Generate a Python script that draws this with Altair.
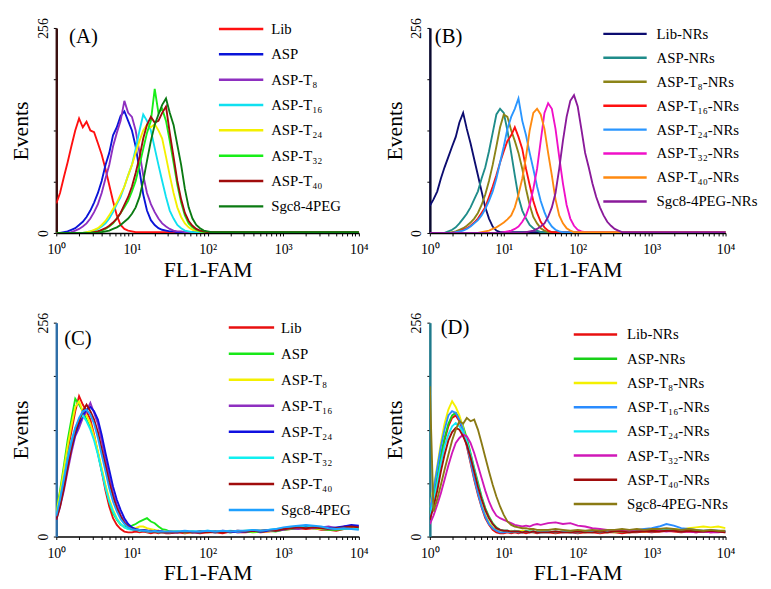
import altair as alt
import pandas as pd

FONT = "Liberation Serif"

# ---------------- x grids (FL1-FAM channel values) ----------------
FL_A = [1.00, 1.12, 1.26, 1.41, 1.58, 1.78, 2.00, 2.24, 2.51, 2.82,
        3.16, 3.55, 3.98, 4.47, 5.01, 5.62, 6.31, 7.08, 7.94, 8.91,
        10.0, 11.2, 12.6, 14.1, 15.8, 17.8, 20.0, 22.4, 25.1, 28.2,
        31.6, 35.5, 39.8, 44.7, 50.1, 56.2, 63.1, 70.8, 79.4, 89.1,
        100, 112, 126,
        316, 1000, 3162, 10000]

FL_B = [1.00, 1.12, 1.26, 1.41, 1.58, 1.78, 2.00, 2.24, 2.51, 2.82,
        3.16, 3.55, 3.98, 4.47, 5.01, 5.62, 6.31, 7.08, 7.94, 8.91,
        10.0, 11.2, 12.6, 14.1, 15.8, 17.8, 20.0, 22.4, 25.1, 28.2,
        31.6, 35.5, 39.8, 44.7, 50.1, 56.2, 63.1, 70.8, 79.4, 89.1,
        100, 112, 126, 141, 158, 178, 200, 224, 251, 282,
        316, 355, 398, 447, 501,
        1000, 3162, 10000]

FL_CD = [1.00, 1.12, 1.26, 1.41, 1.58, 1.78, 2.00, 2.24, 2.51, 2.82,
         3.16, 3.55, 3.98, 4.47, 5.01, 5.62, 6.31, 7.08, 7.94, 8.91,
         10.0, 11.2, 12.6, 14.1, 15.8, 17.8, 20.0, 22.4, 25.1, 28.2,
         31.6,
         39.8, 50.1, 63.1, 79.4, 100, 126, 158, 200, 251, 316,
         398, 501, 631, 794, 1000, 1259, 1585, 1995, 2512, 3162,
         3981, 5012, 6310, 7943, 10000]

# ---------------- panel A ----------------
NAMES_A = ["Lib", "ASP", "ASP-T₈", "ASP-T₁₆", "ASP-T₂₄", "ASP-T₃₂", "ASP-T₄₀", "Sgc8-4PEG"]
COLORS_A = ["#ff1010", "#0a14d8", "#8e2fc0", "#10e0f0", "#f4f000", "#18ee18", "#a00c0c", "#0a7a12"]
LIB_A = [37, 50, 70, 88, 108, 128, 143, 132, 139, 128,
         126, 112, 98, 80, 60, 40, 22, 10, 5, 3,
         2, 1, 1, 1, 1, 1, 1, 1, 1, 1,
         1, 1, 1, 1, 1, 1, 1, 1, 1, 1,
         1, 1, 1, 1, 1, 1, 1]
ASP_A = [0, 0, 1, 2, 4, 6, 10, 14, 20, 28,
         38, 50, 65, 85, 100, 122, 132, 146, 152, 140,
         128, 108, 78, 48, 28, 16, 10, 6, 4, 3,
         2, 2, 1, 1, 1, 1, 1, 1, 1, 1,
         1, 1, 1, 1, 1, 1, 1]
T8_A = [0, 0, 0, 0, 1, 3, 5, 8, 12, 18,
        26, 36, 50, 68, 85, 108, 125, 140, 165, 150,
        145, 128, 100, 72, 50, 36, 26, 18, 12, 8,
        5, 3, 2, 2, 1, 1, 1, 1, 1, 1,
        1, 1, 1, 1, 1, 1, 1]
T16_A = [0, 0, 0, 0, 0, 0, 0, 0, 1, 2,
         3, 5, 8, 12, 18, 26, 36, 45, 58, 72,
         85, 105, 128, 148, 140, 128, 106, 85, 65, 45,
         28, 18, 10, 6, 3, 2, 1, 1, 1, 1,
         1, 1, 1, 1, 1, 1, 1]
T24_A = [0, 0, 0, 0, 0, 0, 0, 0, 1, 2,
         4, 6, 10, 15, 22, 30, 38, 48, 58, 72,
         85, 100, 115, 128, 135, 132, 136, 128, 118, 95,
         72, 50, 32, 20, 12, 7, 4, 3, 2, 1,
         1, 1, 1, 1, 1, 1, 1]
T32_A = [0, 0, 0, 0, 0, 0, 0, 0, 0, 0,
         1, 2, 3, 5, 8, 12, 18, 25, 32, 40,
         52, 65, 85, 105, 125, 140, 180, 150, 155, 140,
         115, 88, 60, 38, 22, 12, 7, 4, 2, 1,
         1, 1, 1, 1, 1, 1, 1]
T40_A = [0, 0, 0, 0, 0, 0, 0, 0, 0, 0,
         1, 2, 4, 6, 9, 13, 18, 25, 35, 45,
         58, 75, 95, 118, 135, 145, 138, 140, 150, 158,
         125, 95, 65, 42, 25, 15, 9, 5, 3, 2,
         1, 1, 1, 1, 1, 1, 1]
SGC_A = [0, 0, 0, 0, 0, 0, 0, 0, 0, 0,
         0, 0, 1, 2, 3, 5, 7, 10, 14, 18,
         24, 32, 45, 65, 90, 115, 135, 148, 160, 168,
         150, 135, 110, 85, 55, 32, 18, 10, 6, 3,
         2, 1, 1, 1, 1, 1, 1]

# ---------------- panel B ----------------
NAMES_B = ["Lib-NRs", "ASP-NRs", "ASP-T₈-NRs", "ASP-T₁₆-NRs", "ASP-T₂₄-NRs",
           "ASP-T₃₂-NRs", "ASP-T₄₀-NRs", "Sgc8-4PEG-NRs"]
COLORS_B = ["#0c0c70", "#1f8c8a", "#8c8418", "#ff1010", "#2a96ff", "#f010c8", "#ff8a10", "#8a1a9a"]
LIB_B = [34, 42, 52, 68, 82, 95, 108, 120, 138, 150,
         130, 112, 92, 72, 52, 32, 18, 8, 3, 1,
         1, 1, 1, 1, 1, 1, 1, 1, 1, 1,
         1, 1, 1, 1, 1, 1, 1, 1, 1, 1,
         1, 1, 1, 1, 1, 1, 1, 1, 1, 1,
         1, 1, 1, 1, 1,
         1, 1, 1]
ASP_B = [0, 0, 0, 0, 0, 2, 4, 7, 12, 18,
         24, 32, 42, 52, 68, 82, 102, 125, 148, 155,
         150, 128, 100, 72, 45, 28, 18, 10, 6, 3,
         1, 1, 1, 1, 1, 1, 1, 1, 1, 1,
         1, 1, 1, 1, 1, 1, 1, 1, 1, 1,
         1, 1, 1, 1, 1,
         1, 1, 1]
T8_B = [0, 0, 0, 0, 0, 0, 1, 2, 4, 6,
        9, 13, 18, 25, 35, 48, 65, 85, 108, 132,
        148, 145, 128, 115, 100, 80, 55, 35, 20, 12,
        6, 3, 1, 1, 1, 1, 1, 1, 1, 1,
        1, 1, 1, 1, 1, 1, 1, 1, 1, 1,
        1, 1, 1, 1, 1,
        1, 1, 1]
T16_B = [0, 0, 0, 0, 0, 0, 0, 1, 2, 4,
         6, 9, 13, 18, 25, 32, 45, 58, 72, 88,
         102, 115, 122, 132, 120, 105, 80, 60, 40, 25,
         14, 7, 3, 1, 1, 1, 1, 1, 1, 1,
         1, 1, 1, 1, 1, 1, 1, 1, 1, 1,
         1, 1, 1, 1, 1,
         1, 1, 1]
T24_B = [0, 0, 0, 0, 0, 0, 0, 1, 2, 3,
         5, 8, 12, 16, 22, 30, 40, 52, 68, 88,
         108, 130, 145, 155, 168, 140, 122, 100, 80, 58,
         40, 26, 15, 8, 4, 2, 1, 1, 1, 1,
         1, 1, 1, 1, 1, 1, 1, 1, 1, 1,
         1, 1, 1, 1, 1,
         1, 1, 1]
T32_B = [0, 0, 0, 0, 0, 0, 0, 0, 0, 0,
         0, 0, 0, 0, 0, 0, 0, 0, 0, 0,
         1, 2, 3, 5, 8, 14, 22, 35, 55, 80,
         115, 150, 162, 155, 130, 95, 62, 35, 18, 9,
         4, 2, 1, 1, 1, 1, 1, 1, 1, 1,
         1, 1, 1, 1, 1,
         1, 1, 1]
T40_B = [0, 0, 0, 0, 0, 0, 0, 0, 0, 0,
         0, 0, 0, 0, 1, 2, 3, 5, 7, 10,
         13, 17, 22, 32, 48, 68, 95, 128, 150, 155,
         148, 130, 100, 72, 42, 22, 12, 6, 3, 1,
         1, 1, 1, 1, 1, 1, 1, 1, 1, 1,
         1, 1, 1, 1, 1,
         1, 1, 1]
SGC_B = [0, 0, 0, 0, 0, 0, 0, 0, 0, 0,
         0, 0, 0, 0, 0, 0, 0, 0, 0, 0,
         0, 0, 0, 0, 0, 0, 1, 2, 3, 5,
         8, 12, 20, 32, 50, 80, 115, 145, 165, 172,
         158, 130, 100, 82, 62, 45, 32, 22, 14, 9,
         5, 3, 1, 1, 1,
         1, 1, 1]

# ---------------- panel C ----------------
NAMES_C = ["Lib", "ASP", "ASP-T₈", "ASP-T₁₆", "ASP-T₂₄", "ASP-T₃₂", "ASP-T₄₀", "Sgc8-4PEG"]
COLORS_C = ["#e81010", "#18e818", "#f4f000", "#8e2fc0", "#1010e0", "#10f0f0", "#a00c0c", "#1ea0ff"]
LIB_C = [22, 45, 72, 100, 125, 150, 168, 158, 150, 140,
         122, 100, 78, 55, 36, 22, 14, 9, 6, 5,
         5, 6, 5, 6, 5, 4, 5, 4, 5, 4,
         4,
         5, 4, 5, 4, 5, 5, 4, 6, 5, 5,
         6, 5, 6, 7, 8, 9, 10, 9, 10, 8,
         8, 7, 9, 10, 11]
ASP_C = [30, 55, 85, 115, 140, 165, 158, 150, 140, 130,
         118, 100, 80, 60, 42, 28, 20, 14, 12, 12,
         13, 15, 18, 20, 22, 18, 16, 12, 9, 8,
         6,
         6, 5, 6, 5, 6, 5, 6, 5, 6, 6,
         5, 6, 7, 6, 8, 9, 10, 11, 10, 9,
         8, 8, 9, 10, 9]
T8_C = [28, 52, 80, 108, 132, 155, 162, 150, 145, 135,
        120, 102, 82, 62, 45, 32, 22, 15, 11, 9,
        9, 10, 12, 12, 10, 9, 8, 7, 6, 6,
        5,
        6, 5, 5, 6, 5, 6, 6, 5, 6, 7,
        6, 7, 6, 8, 9, 10, 12, 11, 10, 9,
        10, 9, 11, 12, 10]
T16_C = [20, 35, 55, 78, 100, 120, 130, 142, 150, 160,
         148, 135, 115, 92, 72, 52, 38, 26, 18, 13,
         10, 9, 8, 8, 7, 7, 6, 7, 6, 5,
         6,
         5, 6, 5, 6, 6, 5, 7, 6, 5, 6,
         7, 6, 8, 7, 8, 10, 9, 11, 10, 11,
         12, 10, 12, 13, 12]
T24_C = [22, 38, 60, 85, 105, 122, 135, 145, 152, 155,
         150, 140, 122, 100, 80, 60, 44, 32, 22, 15,
         11, 9, 8, 8, 7, 6, 7, 6, 6, 5,
         5,
         5, 6, 5, 5, 6, 5, 6, 5, 6, 6,
         7, 6, 7, 8, 9, 11, 12, 13, 12, 11,
         10, 11, 12, 14, 13]
T32_C = [24, 45, 70, 95, 115, 130, 140, 145, 138, 128,
         115, 98, 78, 58, 42, 30, 21, 15, 11, 9,
         8, 8, 7, 7, 6, 6, 6, 5, 5, 5,
         5,
         6, 5, 6, 6, 7, 6, 6, 7, 6, 7,
         8, 7, 8, 9, 10, 11, 12, 11, 12, 10,
         9, 9, 10, 9, 10]
T40_C = [20, 36, 58, 82, 105, 125, 138, 150, 158, 150,
         140, 125, 105, 85, 65, 48, 34, 24, 16, 12,
         9, 8, 8, 7, 7, 6, 6, 6, 5, 5,
         5,
         5, 6, 5, 6, 5, 6, 5, 6, 7, 6,
         7, 7, 8, 7, 9, 10, 11, 10, 11, 10,
         9, 10, 11, 12, 11]
SGC_C = [25, 44, 68, 92, 112, 130, 142, 150, 152, 146,
         135, 118, 98, 78, 58, 42, 30, 21, 15, 11,
         9, 8, 8, 7, 7, 6, 7, 6, 6, 6,
         6,
         6, 7, 6, 6, 7, 6, 7, 6, 7, 7,
         8, 7, 8, 9, 11, 12, 13, 14, 13, 12,
         10, 9, 10, 9, 8]

# ---------------- panel D ----------------
NAMES_D = ["Lib-NRs", "ASP-NRs", "ASP-T₈-NRs", "ASP-T₁₆-NRs", "ASP-T₂₄-NRs",
           "ASP-T₃₂-NRs", "ASP-T₄₀-NRs", "Sgc8-4PEG-NRs"]
COLORS_D = ["#e81010", "#18d018", "#f4f000", "#2a8cff", "#10e8f8", "#d018b8", "#a00c0c", "#8a7a14"]
LIB_D = [25, 45, 68, 92, 115, 132, 142, 145, 138, 125,
         108, 88, 68, 50, 35, 22, 14, 8, 5, 4,
         4, 5, 4, 5, 4, 5, 4, 5, 5, 4,
         5,
         5, 4, 5, 5, 4, 5, 5, 4, 5, 5,
         4, 5, 5, 6, 5, 6, 7, 6, 5, 6,
         5, 6, 5, 6, 5]
ASP_D = [28, 48, 72, 98, 118, 135, 145, 148, 142, 132,
         118, 100, 82, 65, 48, 34, 24, 16, 11, 8,
         7, 7, 6, 7, 6, 6, 7, 6, 6, 5,
         6,
         6, 5, 6, 5, 6, 5, 6, 6, 5, 6,
         6, 5, 6, 7, 6, 7, 8, 7, 6, 7,
         6, 6, 7, 6, 6]
T8_D = [35, 58, 85, 112, 135, 152, 162, 155, 145, 130,
        112, 92, 72, 54, 38, 26, 17, 11, 8, 7,
        7, 6, 7, 6, 6, 7, 6, 6, 5, 6,
        6,
        6, 5, 6, 6, 5, 6, 5, 6, 6, 5,
        6, 6, 7, 6, 7, 8, 8, 9, 8, 10,
        11, 12, 11, 12, 10]
T16_D = [32, 55, 82, 108, 128, 145, 150, 148, 140, 128,
         110, 90, 70, 52, 36, 24, 15, 10, 7, 5,
         5, 6, 5, 6, 5, 5, 6, 5, 6, 5,
         5,
         6, 5, 6, 5, 5, 6, 5, 6, 6, 7,
         6, 7, 8, 9, 10, 12, 15, 13, 10, 9,
         8, 7, 8, 7, 6]
T24_D = [24, 42, 64, 88, 108, 122, 132, 136, 132, 125,
         114, 98, 80, 62, 46, 32, 22, 15, 10, 8,
         7, 7, 6, 6, 6, 5, 6, 6, 5, 6,
         5,
         5, 6, 5, 6, 5, 6, 6, 5, 6, 6,
         7, 6, 7, 7, 8, 9, 9, 8, 8, 7,
         7, 6, 7, 6, 6]
T32_D = [15, 25, 38, 52, 68, 85, 100, 112, 118, 122,
         120, 112, 100, 85, 70, 55, 42, 32, 25, 22,
         20, 18, 16, 14, 13, 12, 13, 12, 14, 15,
         14,
         16, 17, 15, 16, 13, 12, 10, 9, 8, 7,
         8, 7, 6, 7, 6, 7, 6, 7, 6, 6,
         5, 6, 5, 5, 6]
T40_D = [20, 35, 55, 78, 98, 115, 125, 130, 128, 120,
         110, 95, 78, 60, 45, 32, 22, 15, 10, 8,
         7, 7, 6, 6, 6, 5, 6, 5, 6, 5,
         5,
         5, 6, 5, 5, 6, 5, 5, 6, 5, 6,
         6, 5, 6, 6, 7, 6, 7, 7, 6, 7,
         6, 6, 7, 6, 5]
SGC_D = [180, 30, 45, 62, 80, 98, 115, 128, 138, 135,
         142, 138, 140, 128, 112, 95, 78, 62, 48, 36,
         26, 18, 14, 12, 11, 10, 10, 9, 9, 8,
         8,
         8, 9, 8, 7, 8, 7, 8, 7, 8, 8,
         9, 8, 9, 8, 9, 9, 10, 9, 8, 9,
         8, 7, 8, 7, 7]

X_TICKS = [1, 2, 3, 4, 5, 6, 7, 8, 9,
           10, 20, 30, 40, 50, 60, 70, 80, 90,
           100, 200, 300, 400, 500, 600, 700, 800, 900,
           1000, 2000, 3000, 4000, 5000, 6000, 7000, 8000, 9000, 10000]
Y_TICKS = [0, 64, 128, 192, 256]

X_LABEL_EXPR = ("datum.value == 1 ? '10⁰' : datum.value == 10 ? '10¹' : "
                "datum.value == 100 ? '10²' : datum.value == 1000 ? '10³' : "
                "datum.value == 10000 ? '10⁴' : ''")


def panel(fl, names, colors, series, domain_color, width, height,
          leg_x0, leg_x1, leg_tx, leg_y0, leg_y1, tag, tag_x, tag_y):
    rows = []
    for name, vals in zip(names, series):
        for xv, yv in zip(fl, vals):
            rows.append({"fl": xv, "count": yv, "series": name})
    df = pd.DataFrame(rows)
    color = alt.Color("series:N", scale=alt.Scale(domain=names, range=colors), legend=None)

    lines = alt.Chart(df).mark_line(strokeWidth=1.9, clip=True).encode(
        x=alt.X("fl:Q",
                scale=alt.Scale(type="log", domain=[1, 10000], nice=False),
                axis=alt.Axis(values=X_TICKS, labelExpr=X_LABEL_EXPR, title="FL1-FAM",
                              tickSize=3, labelFontSize=14, labelFont=FONT,
                              titleFont=FONT, titleFontSize=22, titleFontWeight="normal",
                              labelPadding=7, titlePadding=3, labelFlush=False,
                              labelOverlap=False, domainColor="black", domainWidth=1.5,
                              tickColor="black", labelColor="black", titleColor="black",
                              grid=False)),
        y=alt.Y("count:Q",
                scale=alt.Scale(domain=[0, 256], nice=False),
                axis=alt.Axis(values=Y_TICKS,
                              labelExpr="datum.value == 0 || datum.value == 256 ? datum.label : ''",
                              labelAngle=270, title="Events", tickSize=3,
                              labelFontSize=14, labelFont=FONT, titleFont=FONT,
                              titleFontSize=22, titleFontWeight="normal",
                              labelPadding=3, titlePadding=4, labelOverlap=False,
                              domainColor=domain_color, domainWidth=2.5,
                              tickColor="black", labelColor="black", titleColor="black",
                              grid=False)),
        color=color,
    )

    leg_df = pd.DataFrame({"series": names})
    leg_y = alt.Y("series:N", sort=names,
                  scale=alt.Scale(type="point", domain=names, range=[leg_y0, leg_y1], padding=0),
                  axis=None)
    leg_rule = alt.Chart(leg_df).mark_rule(strokeWidth=2.5).encode(
        x=alt.value(leg_x0), x2=alt.value(leg_x1), y=leg_y, color=color)
    leg_text = alt.Chart(leg_df).mark_text(
        align="left", baseline="middle", font=FONT, fontSize=15, color="black"
    ).encode(x=alt.value(leg_tx), y=leg_y, text="series:N")

    tag_chart = alt.Chart(pd.DataFrame({"tag": [tag]})).mark_text(
        align="left", baseline="middle", font=FONT, fontSize=21, color="black"
    ).encode(x=alt.value(tag_x), y=alt.value(tag_y), text="tag:N")

    return alt.layer(lines, leg_rule, leg_text, tag_chart).resolve_scale(
        y="independent").properties(width=width, height=height)


pA = panel(FL_A, NAMES_A, COLORS_A,
           [LIB_A, ASP_A, T8_A, T16_A, T24_A, T32_A, T40_A, SGC_A],
           "#3a1010", 307, 208, 165, 210, 218, 1, 181, "(A)", 13, 9)
pB = panel(FL_B, NAMES_B, COLORS_B,
           [LIB_B, ASP_B, T8_B, T16_B, T24_B, T32_B, T40_B, SGC_B],
           "#0a0a30", 300, 208, 176, 220, 230, 6, 176, "(B)", 5, 9)
pC = panel(FL_CD, NAMES_C, COLORS_C,
           [LIB_C, ASP_C, T8_C, T16_C, T24_C, T32_C, T40_C, SGC_C],
           "#2f6fa8", 307, 217, 175, 221, 228, 5, 190, "(C)", 8, 17)
pD = panel(FL_CD, NAMES_D, COLORS_D,
           [LIB_D, ASP_D, T8_D, T16_D, T24_D, T32_D, T40_D, SGC_D],
           "#1f7a8c", 300, 217, 146, 190, 200, 12, 184, "(D)", 11, 5)

chart = alt.concat(pA, pB, pC, pD, columns=2,
                   spacing=alt.RowColnumber(row=91, column=72)).resolve_scale(
    color="independent"
).properties(
    bounds="flush",
    padding={"left": 2, "top": 5, "right": 5, "bottom": 5},
    background="white",
).configure_view(stroke=None)

chart.save("out.html", embed_options={"renderer": "svg", "actions": False})
